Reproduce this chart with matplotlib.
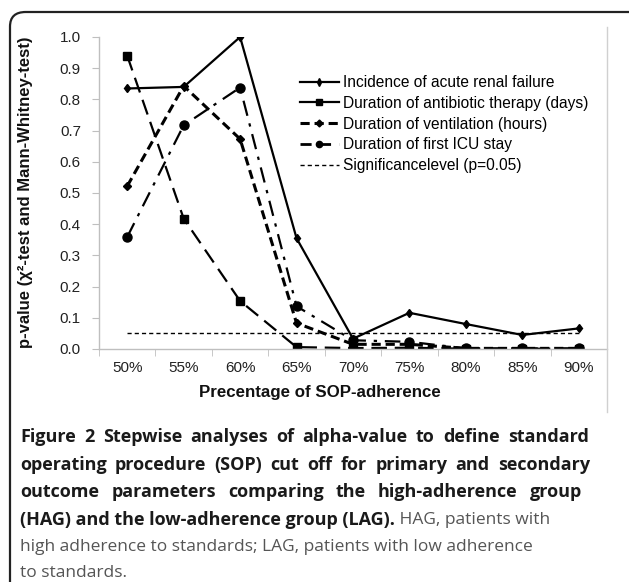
import matplotlib
matplotlib.use("Agg")
import matplotlib.pyplot as plt
from matplotlib.lines import Line2D
from matplotlib.patches import FancyBboxPatch

categories = ["50%", "55%", "60%", "65%", "70%", "75%", "80%", "85%", "90%"]
renal = [0.835, 0.840, 1.000, 0.355, 0.033, 0.116, 0.080, 0.045, 0.066]
antibiotic = [0.940, 0.418, 0.154, 0.006, 0.003, 0.004, 0.001, 0.001, 0.001]
ventilation = [0.522, 0.843, 0.673, 0.083, 0.015, 0.015, 0.002, 0.002, 0.002]
icu = [0.359, 0.717, 0.838, 0.137, 0.028, 0.023, 0.002, 0.002, 0.002]
signif = [0.05] * len(categories)

labels = ["Incidence of acute renal failure",
          "Duration of antibiotic therapy (days)",
          "Duration of ventilation (hours)",
          "Duration of first ICU stay",
          "Significancelevel (p=0.05)"]
yticks = [0.0, 0.1, 0.2, 0.3, 0.4, 0.5, 0.6, 0.7, 0.8, 0.9, 1.0]

W, H = 629, 582
fig = plt.figure(figsize=(W / 100, H / 100), dpi=100)
plt.rcParams['font.family'] = ['Liberation Sans', 'DejaVu Sans']

# outer rounded frame
frame = FancyBboxPatch((10 / W, -20 / H), (660 - 10) / W, (H - 12 + 20) / H,
                       boxstyle="round,pad=0,rounding_size=0.025",
                       transform=fig.transFigure, fill=False, ec="#222222",
                       lw=1.6, clip_on=False)
fig.patches.append(frame)
# chart area right border
fig.add_artist(Line2D([607 / W, 607 / W], [1 - 27 / H, 1 - 412 / H],
                      transform=fig.transFigure, color="#d0d0d0", lw=1))

ax = fig.add_axes([99 / W, 1 - 349 / H, (607 - 99) / W, (349 - 37) / H])
x = list(range(len(categories)))

ax.plot(x, signif, color="black", lw=1.0, dashes=(3, 2.2))
ax.plot(x, antibiotic, color="black", lw=1.6, dashes=(7, 3.5), marker="s", ms=5.5)
ax.plot(x, icu, color="black", lw=1.6, dashes=(7, 3.5, 1.5, 3.5), marker="o", ms=6.5)
ax.plot(x, ventilation, color="black", lw=2.2, dashes=(3, 1.6), marker="D", ms=4.5)
ax.plot(x, renal, color="black", lw=1.6, marker="d", ms=4.5)

ax.set_xlim(-0.5, len(categories) - 0.5)
ax.set_ylim(0, 1.0)
ax.set_xticks(x)
ax.set_xticklabels(categories)
ax.set_xticks([i - 0.5 for i in range(len(categories) + 1)], minor=True)
ax.tick_params(axis="x", which="major", length=0, pad=9, labelsize=11, labelcolor="#222222")
ax.tick_params(axis="x", which="minor", length=5, color="#bfbfbf", direction="out")
ax.set_yticks(yticks)
ax.set_yticklabels([f"{v:.1f}" for v in yticks])
ax.tick_params(axis="y", length=5, color="#bfbfbf", direction="out", pad=8,
               labelsize=11, labelcolor="#222222")
for s in ["top", "right"]:
    ax.spines[s].set_visible(False)
for s in ["left", "bottom"]:
    ax.spines[s].set_color("#bfbfbf")
    ax.spines[s].set_linewidth(1)

# axis titles
fig.text(320 / W, 1 - 392 / H, "Precentage of SOP-adherence", fontsize=12.2,
         fontweight="bold", color="#111111", ha="center", va="center")
fig.text(26 / W, 1 - 192 / H, "p-value (χ²-test and Mann-Whitney-test)", fontsize=12,
         fontweight="bold", color="#111111", ha="center", va="center", rotation=90)

handles = [
    Line2D([], [], color="black", lw=1.6, marker="d", ms=4),
    Line2D([], [], color="black", lw=1.6, marker="s", ms=4),
    Line2D([], [], color="black", lw=2.2, dashes=(3, 1.6), marker="D", ms=3.5),
    Line2D([], [], color="black", lw=2.0, dashes=(4, 3), marker="o", ms=4.5),
    Line2D([], [], color="black", lw=1.0, dashes=(3, 2.2)),
]
ax.legend(handles, labels, loc="upper left",
          bbox_to_anchor=((300 - 99) / (607 - 99), 1 - (75 - 37) / (349 - 37)),
          frameon=False, fontsize=11.2, handlelength=2.5, handletextpad=0.25,
          labelspacing=0.37, borderpad=0, borderaxespad=0)

# caption (justified first lines)
cap_font = ['Open Sans', 'DejaVu Sans']
bold_lines = ["Figure 2 Stepwise analyses of alpha-value to define standard",
              "operating procedure (SOP) cut off for primary and secondary",
              "outcome parameters comparing the high-adherence group",
              "(HAG) and the low-adherence group (LAG)."]
reg_lines = ["", "", "", " HAG, patients with",
             "high adherence to standards; LAG, patients with low adherence",
             "to standards."]
justify_to = [589, 590, 582, None, None, None]
ys = [437, 465, 492, 520, 547, 573]
fs_bold = 13.0
fs_reg = 12.5
renderer = fig.canvas.get_renderer()
x0 = 20
for i, yy in enumerate(ys):
    xb = x0
    if i < len(bold_lines):
        if justify_to[i]:
            words = bold_lines[i].split(" ")
            widths = []
            tmp = []
            for wd in words:
                t = fig.text(0, 0, wd, fontsize=fs_bold, fontweight="bold", family=cap_font,
                             color="#1a1a1a", va="center", ha="left")
                widths.append(t.get_window_extent(renderer=renderer).width)
                tmp.append(t)
            gap = (justify_to[i] - x0 - sum(widths)) / (len(words) - 1)
            cx = x0
            for t, wdt in zip(tmp, widths):
                t.set_position((cx / W, 1 - yy / H))
                cx += wdt + gap
            xb = justify_to[i]
        else:
            t = fig.text(x0 / W, 1 - yy / H, bold_lines[i], fontsize=fs_bold, fontweight="bold",
                         family=cap_font, color="#1a1a1a", va="center", ha="left")
            xb = t.get_window_extent(renderer=renderer).x1
    if reg_lines[i]:
        fig.text(xb / W, 1 - yy / H, reg_lines[i], fontsize=fs_reg, family=cap_font,
                 color="#555555", va="center", ha="left")

fig.savefig("out.png", dpi=100)
